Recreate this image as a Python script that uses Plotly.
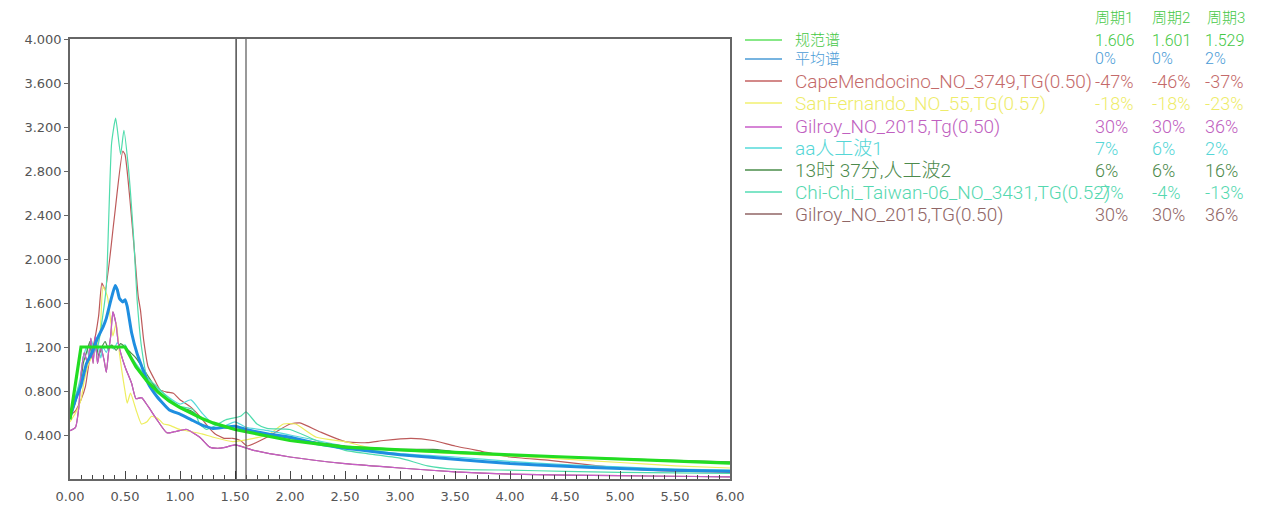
import plotly.graph_objects as go

# ---- data: spectral acceleration vs period ----
period_headers = ["周期1", "周期2", "周期3"]
marked_periods = [1.51, 1.60]

code_T = [0, 0.1, 0.5, 0.6, 0.7, 0.8, 0.9, 1.0, 1.1, 1.2, 1.3, 1.4, 1.5, 1.6, 1.8, 2.0,
          2.25, 2.5, 3.0, 3.5, 4.0, 4.5, 5.0, 5.5, 6.0]
code_Sa = [0.54, 1.20, 1.20, 1.02, 0.89, 0.79, 0.71, 0.65, 0.60, 0.55, 0.51, 0.48, 0.45, 0.43,
           0.39, 0.35, 0.32, 0.29, 0.265, 0.24, 0.22, 0.20, 0.18, 0.16, 0.145]

mean_T = [0, 0.05, 0.1, 0.15, 0.2, 0.25, 0.3, 0.33, 0.37, 0.41, 0.43, 0.45, 0.48, 0.5, 0.52,
          0.56, 0.61, 0.65, 0.71, 0.79, 0.9, 1.0, 1.1, 1.2, 1.3, 1.4, 1.5, 1.6, 1.8, 2.0,
          2.25, 2.5, 2.75, 3.0, 3.5, 4.0, 4.5, 5.0, 5.5, 6.0]
mean_Sa = [0.56, 0.72, 0.85, 1.05, 1.15, 1.28, 1.38, 1.46, 1.62, 1.76, 1.72, 1.64, 1.61, 1.63,
           1.57, 1.33, 1.14, 1.03, 0.87, 0.75, 0.63, 0.59, 0.54, 0.49, 0.46, 0.47, 0.48, 0.45,
           0.41, 0.38, 0.32, 0.28, 0.25, 0.22, 0.18, 0.14, 0.115, 0.095, 0.08, 0.07]

cape_T = [0, 0.05, 0.1, 0.14, 0.18, 0.21, 0.26, 0.29, 0.32, 0.4, 0.48, 0.5, 0.545, 0.59, 0.62,
          0.64, 0.67, 0.71, 0.76, 0.82, 0.88, 0.94, 1.0, 1.09, 1.18, 1.26, 1.32, 1.4, 1.48,
          1.55, 1.61, 1.79, 2.0, 2.09, 2.27, 2.5, 2.7, 2.85, 3.1, 3.3, 3.5, 3.75, 4.0, 4.36,
          4.8, 5.27, 6.0]
cape_Sa = [0.58, 0.62, 0.72, 0.84, 1.10, 1.20, 1.48, 1.78, 1.72, 2.35, 2.98, 2.95, 2.54, 2.02,
           1.66, 1.54, 1.26, 1.02, 0.92, 0.81, 0.79, 0.78, 0.72, 0.66, 0.57, 0.47, 0.41, 0.37,
           0.37, 0.35, 0.30, 0.38, 0.50, 0.51, 0.43, 0.34, 0.33, 0.35, 0.37, 0.35, 0.30, 0.25,
           0.20, 0.17, 0.12, 0.08, 0.06]

sanf_T = [0, 0.05, 0.1, 0.13, 0.17, 0.22, 0.27, 0.3, 0.34, 0.39, 0.42, 0.45, 0.5, 0.52, 0.55,
          0.6, 0.65, 0.7, 0.74, 0.8, 0.85, 0.9, 1.0, 1.1, 1.2, 1.3, 1.48, 1.67, 1.8, 1.94,
          2.05, 2.24, 2.5, 2.7, 3.0, 3.5, 4.0, 4.5, 5.0, 5.5, 6.0]
sanf_Sa = [0.52, 0.60, 0.72, 0.90, 1.05, 1.15, 1.30, 1.75, 1.66, 1.30, 1.42, 1.14, 0.80, 0.69,
           0.78, 0.63, 0.50, 0.52, 0.57, 0.55, 0.50, 0.49, 0.45, 0.43, 0.41, 0.38, 0.34, 0.37,
           0.40, 0.50, 0.50, 0.38, 0.34, 0.29, 0.26, 0.23, 0.21, 0.18, 0.15, 0.12, 0.10]

gilroy_T = [0, 0.05, 0.08, 0.1, 0.13, 0.16, 0.19, 0.21, 0.23, 0.25, 0.28, 0.31, 0.33, 0.35,
            0.37, 0.39, 0.42, 0.44, 0.5, 0.56, 0.6, 0.65, 0.71, 0.79, 0.88, 0.95, 1.06, 1.18,
            1.27, 1.36, 1.42, 1.5, 1.67, 2.0, 2.5, 3.0, 3.5, 4.0, 4.5, 5.0, 5.5, 6.0]
gilroy_Sa = [0.44, 0.47, 0.65, 0.95, 1.15, 1.05, 1.28, 1.05, 1.30, 1.05, 1.20, 1.08, 0.97,
             1.15, 1.30, 1.52, 1.40, 1.23, 1.02, 0.87, 0.73, 0.74, 0.66, 0.54, 0.42, 0.43,
             0.45, 0.38, 0.29, 0.28, 0.29, 0.31, 0.26, 0.20, 0.14, 0.10, 0.065, 0.045, 0.035,
             0.03, 0.025, 0.02]

aa_T = [0, 0.05, 0.1, 0.12, 0.15, 0.17, 0.2, 0.22, 0.25, 0.28, 0.3, 0.33, 0.36, 0.4, 0.43,
        0.46, 0.5, 0.55, 0.6, 0.7, 0.8, 0.9, 1.0, 1.1, 1.2, 1.3, 1.4, 1.5, 1.6, 1.8, 2.0,
        2.5, 3.0, 3.5, 4.0, 4.5, 5.0, 5.5, 6.0]
aa_Sa = [0.60, 0.75, 0.95, 1.10, 1.20, 1.12, 1.25, 1.15, 1.22, 1.10, 1.20, 1.15, 1.22, 1.18,
         1.24, 1.20, 1.22, 1.12, 1.05, 0.92, 0.82, 0.74, 0.68, 0.72, 0.60, 0.50, 0.48, 0.52,
         0.47, 0.44, 0.40, 0.30, 0.23, 0.20, 0.16, 0.13, 0.11, 0.09, 0.08]

wave2_T = [0, 0.05, 0.1, 0.12, 0.15, 0.18, 0.2, 0.23, 0.26, 0.29, 0.32, 0.35, 0.38, 0.42,
           0.46, 0.5, 0.55, 0.6, 0.7, 0.8, 0.9, 1.0, 1.1, 1.2, 1.4, 1.6, 1.8, 2.0, 2.5, 3.0,
           3.3, 3.5, 4.0, 4.5, 5.0, 5.5, 6.0]
wave2_Sa = [0.55, 0.70, 0.90, 1.05, 1.15, 1.25, 1.10, 1.27, 1.12, 1.20, 1.25, 1.18, 1.22,
            1.17, 1.23, 1.20, 1.15, 1.10, 0.95, 0.80, 0.72, 0.65, 0.62, 0.55, 0.47, 0.44,
            0.40, 0.37, 0.30, 0.27, 0.27, 0.25, 0.22, 0.20, 0.185, 0.17, 0.155]

chichi_T = [0, 0.05, 0.1, 0.15, 0.2, 0.25, 0.3, 0.33, 0.378, 0.415, 0.46, 0.49, 0.53, 0.58,
            0.61, 0.65, 0.7, 0.79, 0.88, 1.0, 1.12, 1.18, 1.24, 1.33, 1.42, 1.55, 1.6, 1.7,
            1.79, 2.0, 2.24, 2.5, 2.7, 3.0, 3.25, 3.5, 4.0, 4.5, 5.0, 5.5, 6.0]
chichi_Sa = [0.60, 0.75, 0.90, 1.05, 1.15, 1.20, 1.50, 1.75, 3.05, 3.28, 2.95, 3.17, 2.84,
             2.17, 1.63, 1.20, 0.93, 0.84, 0.75, 0.66, 0.63, 0.50, 0.45, 0.49, 0.54, 0.57,
             0.61, 0.50, 0.46, 0.45, 0.35, 0.26, 0.23, 0.19, 0.12, 0.09, 0.08, 0.07, 0.06,
             0.055, 0.05]

# legend rows: label, line colour, text colour, values under 周期1/2/3
legend_rows = [
    ("规范谱", "#5fe05f", "#45c845", ["1.606", "1.601", "1.529"]),
    ("平均谱", "#4a9bd6", "#4a9bd6", ["0%", "0%", "2%"]),
    ("CapeMendocino_NO_3749,TG(0.50)", "#c46262", "#c46a6a", ["-47%", "-46%", "-37%"]),
    ("SanFernando_NO_55,TG(0.57)", "#f2f070", "#eeec6a", ["-18%", "-18%", "-23%"]),
    ("Gilroy_NO_2015,Tg(0.50)", "#c85cc8", "#c060c0", ["30%", "30%", "36%"]),
    ("aa人工波1", "#55dada", "#55d6d6", ["7%", "6%", "2%"]),
    ("13时 37分,人工波2", "#4a8c4a", "#4c8a4c", ["6%", "6%", "16%"]),
    ("Chi-Chi_Taiwan-06_NO_3431,TG(0.52)", "#55dcb4", "#55d8b0", ["-7%", "-4%", "-13%"]),
    ("Gilroy_NO_2015,TG(0.50)", "#916464", "#906666", ["30%", "30%", "36%"]),
]

# ---- figure geometry (pixels) ----
W, H = 1281, 505
L, R, T, B = 70, 730, 39, 479


def px_x(p):
    return (p - L) / (R - L)


def px_y(p):
    return (B - p) / (B - T)


fig = go.Figure()

curves = [
    (gilroy_T, gilroy_Sa, "#916464", 1.2),
    (cape_T, cape_Sa, "#bd5a5a", 1.2),
    (sanf_T, sanf_Sa, "#eeee60", 1.2),
    (aa_T, aa_Sa, "#55dada", 1.2),
    (wave2_T, wave2_Sa, "#4a8c4a", 1.2),
    (chichi_T, chichi_Sa, "#4fdcac", 1.2),
    (gilroy_T, gilroy_Sa, "#c85cc8", 1.2),
]
for xs, ys, col, w in curves:
    fig.add_trace(go.Scatter(x=xs, y=ys, mode="lines",
                             line=dict(color=col, width=w, shape="spline", smoothing=0.5),
                             hoverinfo="skip", showlegend=False))

fig.add_trace(go.Scatter(x=mean_T, y=mean_Sa, mode="lines",
                         line=dict(color="#1f8ee0", width=3, shape="spline", smoothing=0.4),
                         showlegend=False))
fig.add_trace(go.Scatter(x=code_T, y=code_Sa, mode="lines",
                         line=dict(color="#22dd22", width=3.2),
                         showlegend=False))

# marked periods
for i, tp in enumerate(marked_periods):
    fig.add_shape(type="line", xref="x", yref="paper", x0=tp, x1=tp, y0=0, y1=1,
                  line=dict(color="#222222" if i == 0 else "#555555", width=1.2))

FONT = "Roboto, Noto Sans CJK SC"
THIN = 300
# header
head_x = [1093, 1150, 1205]
for hx, ht in zip(head_x, period_headers):
    fig.add_annotation(x=px_x(hx), y=px_y(18), xref="paper", yref="paper", text=ht,
                       showarrow=False, xanchor="left", yanchor="middle",
                       font=dict(family=FONT, size=15, color="#45c845", weight=THIN))

row_y = [40, 59, 81, 103, 127, 148, 170, 192, 214]
col_x = [1093, 1150, 1203]
for (label, lc, tc, vals), ry in zip(legend_rows, row_y):
    fig.add_shape(type="line", xref="paper", yref="paper",
                  x0=px_x(745), x1=px_x(782), y0=px_y(ry), y1=px_y(ry),
                  line=dict(color=lc, width=1.3))
    small = ry < 70
    fig.add_annotation(x=px_x(793), y=px_y(ry), xref="paper", yref="paper", text=label,
                       showarrow=False, xanchor="left", yanchor="middle",
                       font=dict(family=FONT, size=15 if small else 19, color=tc,
                                 weight=THIN))
    for cx, v in zip(col_x, vals):
        fig.add_annotation(x=px_x(cx), y=px_y(ry), xref="paper", yref="paper", text=v,
                           showarrow=False, xanchor="left", yanchor="middle",
                           font=dict(family=FONT, size=16 if small else 18, color=tc,
                                     weight=THIN))

TICKFONT = dict(family="DejaVu Sans", size=13, color="#555")
fig.update_layout(
    width=W, height=H,
    margin=dict(l=L, r=W - R, t=T, b=H - B, pad=0),
    paper_bgcolor="white", plot_bgcolor="white",
    showlegend=False,
    xaxis=dict(range=[0, 6], tick0=0, dtick=0.5, tickformat=".2f",
               ticks="inside", ticklen=8, tickwidth=1, tickcolor="#444",
               minor=dict(dtick=0.1, ticks="inside", ticklen=4, tickcolor="#444"),
               showline=True, linecolor="#666", linewidth=1.5, mirror=True,
               showgrid=False, zeroline=False, ticklabelstandoff=5,
               automargin=False, tickfont=TICKFONT),
    yaxis=dict(range=[0, 4], tickvals=[0.4, 0.8, 1.2, 1.6, 2.0, 2.4, 2.8, 3.2, 3.6, 4.0],
               tickformat=".3f", ticks="outside", ticklen=4, tickcolor="#666",
               showline=True, linecolor="#666", linewidth=1.5, mirror=True,
               showgrid=False, zeroline=False, automargin=False,
               tickfont=TICKFONT),
)

fig.write_html("out.html")
